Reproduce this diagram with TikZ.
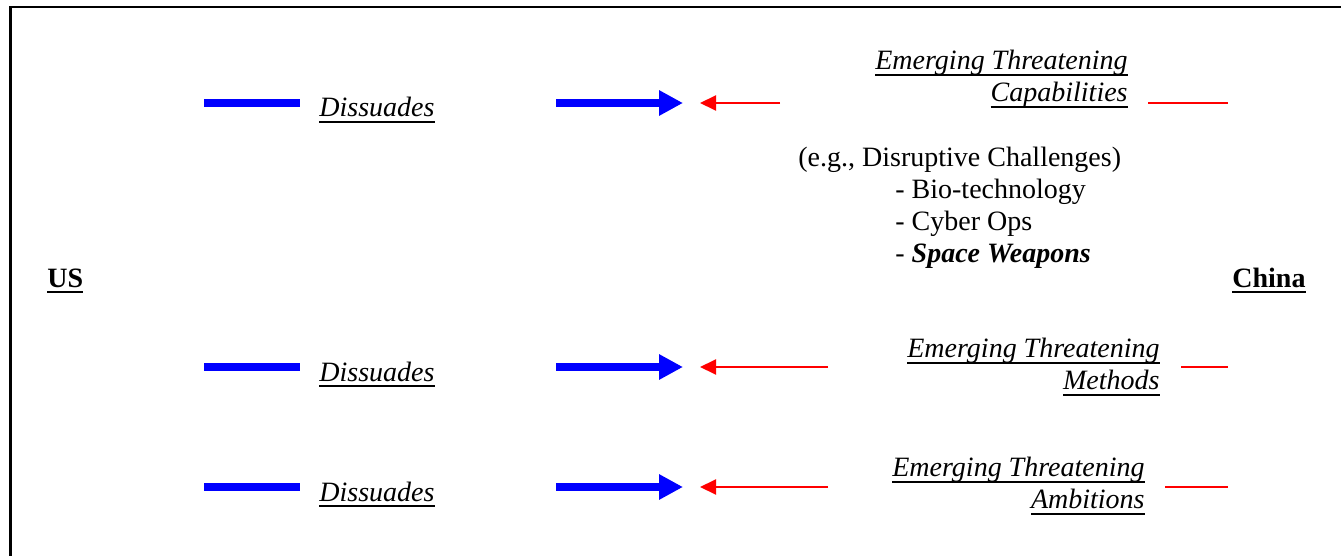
\documentclass[tikz,border=0pt]{standalone}
\usepackage{fontspec}
\setmainfont{Liberation Serif}
\usetikzlibrary{arrows.meta}
\newcommand{\undl}[1]{\leavevmode\setbox0\hbox{#1}\rlap{\rule[-3pt]{\wd0}{1pt}}\box0}
\tikzset{
  lbl/.style={inner sep=0pt, font=\fontsize{14}{16}\selectfont},
  usbar/.style={draw=blue, line width=4pt},
  push/.style={-{Triangle[length=12pt,width=12pt]}, draw=blue, line width=4pt},
  threat/.style={-{Triangle[length=8pt,width=7.5pt]}, draw=red, line width=1pt},
  tail/.style={draw=red, line width=1pt},
}
\begin{document}
\begin{tikzpicture}[x=0.5pt, y=-0.5pt]
\useasboundingbox (0,0) rectangle (1341,556);
\draw[line width=1.2pt] (10.5,556) -- (10.5,7) -- (1341,7);

\node[lbl, anchor=base west] (us) at (47,287) {\textbf{\undl{US}}};
\node[lbl, anchor=base west] (china) at (1232,287) {\textbf{\undl{China}}};

\node[lbl, align=right, anchor=north east] (cap) at (1128,50)
  {\textit{\undl{Emerging Threatening}}\\\textit{\undl{Capabilities}}};
\node[lbl, align=right, anchor=north east] (meth) at (1160,338)
  {\textit{\undl{Emerging Threatening}}\\\textit{\undl{Methods}}};
\node[lbl, align=right, anchor=north east] (amb) at (1145,457)
  {\textit{\undl{Emerging Threatening}}\\\textit{\undl{Ambitions}}};

\node[lbl, align=left, anchor=north west] (eg) at (798,147)
  {(e.g., Disruptive Challenges)\\
   \hspace*{48.5pt}- Bio-technology\\
   \hspace*{48.5pt}- Cyber Ops\\
   \hspace*{48.5pt}- \textbf{\textit{Space Weapons}}};

\foreach \y/\r/\t/\n in {103/780/1148/1, 367/828/1181/2, 487/828/1165/3}{
  \coordinate (bar\n) at (204,\y);
  \coordinate (barend\n) at (300,\y);
  \coordinate (push\n) at (556,\y);
  \coordinate (pushend\n) at (683,\y);
  \coordinate (threat\n) at (\r,\y);
  \coordinate (threatend\n) at (700,\y);
  \coordinate (tail\n) at (\t,\y);
  \coordinate (tailend\n) at (1228,\y);
  \node[lbl, anchor=base west] (dis\n) at (319,\y+14) {\textit{\undl{Dissuades}}};
  \draw[usbar] (bar\n) -- (barend\n);
  \draw[push] (push\n) -- (pushend\n);
  \draw[threat] (threat\n) -- (threatend\n);
  \draw[tail] (tail\n) -- (tailend\n);
}
\end{tikzpicture}
\end{document}
